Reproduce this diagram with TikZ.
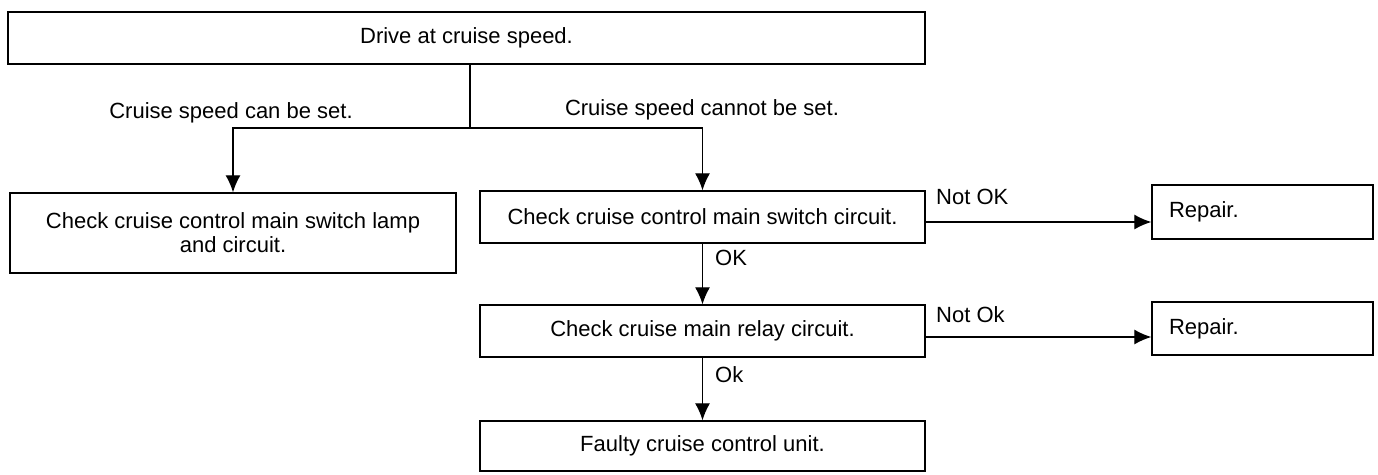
\documentclass[tikz,border=0pt]{standalone}
\usepackage{fontspec}
\setmainfont{Liberation Sans}
\usetikzlibrary{arrows.meta}
\begin{document}
\begin{tikzpicture}[x=1pt,y=-1pt,
  every node/.style={font=\fontsize{22}{24}\selectfont},
  box/.style={draw,line width=1.4pt,rectangle,inner sep=0pt,align=center},
  repbox/.style={draw,line width=1.4pt,rectangle,inner ysep=0pt,inner xsep=17pt,text width=187pt,align=left},
  lbl/.style={inner sep=0pt},
  conn/.style={line width=1.3pt},
  arr/.style={conn,-{Latex[length=17pt,width=15pt]}}]
\useasboundingbox (0,0) rectangle (1378,474);
\node[box,minimum width=917pt,minimum height=52pt] (top) at (466.5,38) {Drive at cruise speed.};
\node[box,minimum width=446pt,minimum height=80pt] (left) at (233,233) {Check cruise control main switch lamp\\and circuit.};
\node[box,minimum width=445pt,minimum height=52pt] (m1) at (702.5,217) {Check cruise control main switch circuit.};
\node[box,minimum width=445pt,minimum height=52pt] (m2) at (702.5,331) {Check cruise main relay circuit.};
\node[box,minimum width=445pt,minimum height=50pt] (m3) at (702.5,446) {Faulty cruise control unit.};
\node[repbox,minimum height=54pt] (r1) at (1262.5,212) {Repair.};
\node[repbox,minimum height=53pt] (r2) at (1262.5,328.5) {Repair.};
\coordinate (j) at (470,128);
\draw[conn] (top.south -| j) -- (j);
\draw[arr] (j) -| (left.north);
\draw[arr] (j) -| (m1.north);
\node[lbl] (lcan) at (231,113) {Cruise speed can be set.};
\node[lbl] (lcannot) at (702,110) {Cruise speed cannot be set.};
\coordinate (a1) at (925,222);
\coordinate (a2) at (925,337);
\draw[arr] (m1.east |- a1) -- (r1.west |- a1);
\draw[arr] (m2.east |- a2) -- (r2.west |- a2);
\node[lbl,anchor=west] (nok1) at (936,197) {Not OK};
\node[lbl,anchor=west] (nok2) at (936,315) {Not Ok};
\draw[arr] (m1.south) -- (m2.north);
\draw[arr] (m2.south) -- (m3.north);
\node[lbl,anchor=west] (ok1) at (715,258) {OK};
\node[lbl,anchor=west] (ok2) at (715,375) {Ok};
\end{tikzpicture}
\end{document}
